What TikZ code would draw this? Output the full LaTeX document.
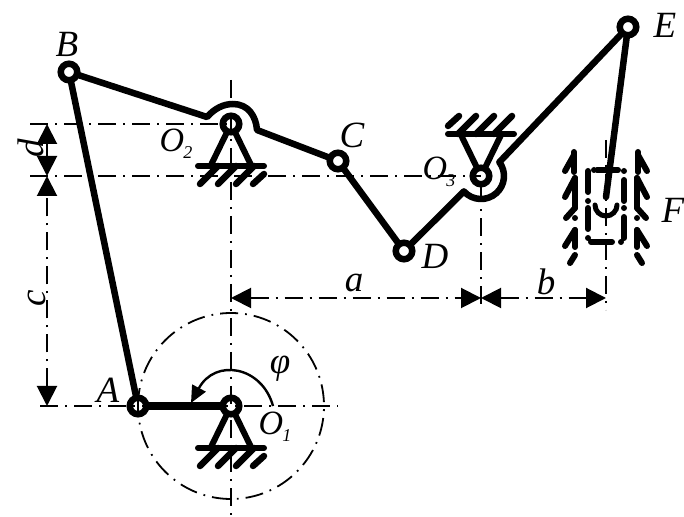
\documentclass[tikz,border=0pt]{standalone}
\usepackage{fontspec}
\setmainfont{Liberation Serif}
\usetikzlibrary{arrows.meta}
\newcommand{\pinsub}[2]{\fontsize{34}{34}\selectfont #1\kern-1pt\raisebox{-0.45ex}{\fontsize{18}{18}\selectfont #2}}
% hinge with ground hatching, centre + rotation
\newcommand{\hinge}[2]{
\begin{scope}[shift={(#1)}, rotate=#2]
\draw[support] (-20,-41) -- (0,0) -- (20,-41);
\draw[support] (-33,-42) -- (33,-42);
\draw[hatch] (-31,-60) -- (-13,-42);
\draw[hatch] (-13,-60) -- (5,-42);
\draw[hatch] (5,-60) -- (23,-42);
\draw[hatch] (22,-60) -- (33,-50);
\end{scope}
}

\begin{document}
\begin{tikzpicture}[
    x=1pt, y=1pt,
    pin/.style={circle, draw, fill=white, line width=6.5pt, minimum size=16.5pt, inner sep=0pt, outer sep=0pt},
    link/.style={line width=6.5pt, line join=round},
    support/.style={line width=6pt, line cap=round, line join=round},
    hatch/.style={line width=6.5pt, line cap=round},
    rail/.style={line width=6pt, line cap=round},
    axisline/.style={line width=2pt, dash pattern=on 18pt off 7pt on 2pt off 7pt},
    dim/.style={line width=2pt, dash pattern=on 18pt off 7pt on 2pt off 7pt, {Triangle[length=20pt,width=20pt]}-{Triangle[length=20pt,width=20pt]}},
    lbl/.style={font=\fontsize{37}{37}\selectfont\itshape, inner sep=0pt}
]
\useasboundingbox (0,0) rectangle (684,516);

% supports
\hinge{231,110}{0}
\hinge{231,392}{0}
\hinge{481,340}{180}

% slider guides
\foreach \sx in {-1,1} {
\begin{scope}[shift={(606,0)}, xscale=\sx]
\draw[rail] (32,364) -- (32,344);
\draw[rail] (32,361) -- (41,345);
\draw[rail] (31,338) -- (31,308);
\draw[rail] (31,338) -- (41,319);
\draw[rail] (31,308) -- (40,298) (31,298) -- (31,298);
\draw[rail] (31,286) -- (31,269);
\draw[rail] (31,286) -- (41,270);
\draw[rail] (31,261) -- (36,253);
\end{scope}
}
\draw[rail, dash pattern=on 21pt off 7pt on 0pt off 9pt] (597,346) -- (624,346) -- (624,274) -- (588,274) -- (588,346) -- cycle;

% joints
\node[pin] (O1) at (231,110) {};
\node[pin] (A) at (138,110) {};
\node[pin] (B) at (69,444) {};
\node[pin] (O2) at (231,392) {};
\node[pin] (C) at (338,355) {};
\node[pin] (D) at (404,265) {};
\node[pin] (O3) at (481,340) {};
\node[pin] (E) at (628,489) {};
\coordinate (S) at (606,311);
\coordinate (Send) at (606,319);
\coordinate (O2left) at (207,399);
\coordinate (O2right) at (257,386);
\coordinate (O3left) at (463.9,324.6);

% links
\draw[link, line width=8pt] (A) -- (O1);
\draw[link] (A) -- (B);
\draw[link] (B) -- (O2left) .. controls (215,408) and (224,412) .. (233,412) .. controls (248,412) and (256,400) .. (O2right) -- (C);
\draw[link] (C) -- (D);
\draw[link] (D) -- (O3left) arc[start angle=222, end angle=397, radius=23] -- (E);
\draw[link, line cap=round] (E) -- (Send);
\draw[line width=5pt, line cap=round] ([shift={(-11,0)}]S) arc[start angle=180, end angle=360, radius=11];

% centre lines
\coordinate (v1top) at (231,436);
\coordinate (v1bot) at (231,0);
\coordinate (h1l) at (30,392);
\coordinate (h1r) at (231,392);
\coordinate (h2l) at (30,340);
\coordinate (h2r) at (481,340);
\coordinate (h3l) at (40,110);
\coordinate (h3r) at (338,110);
\coordinate (v2bot) at (481,206);
\coordinate (v3top) at (606,376);
\coordinate (v3bot) at (606,206);
\draw[axisline] (v1top) -- (v1bot);
\draw[axisline] (h1l) -- (h1r);
\draw[axisline] (h2l) -- (h2r);
\draw[axisline] (h3l) -- (h3r);
\draw[axisline] (O3) -- (v2bot);
\draw[axisline] (v3top) -- (v3bot);
\draw[line width=1.8pt, dash pattern=on 18pt off 7pt on 1.8pt off 7pt] (O1) ++(-93,0) arc[start angle=180, end angle=-180, radius=93];

% dimensions
\coordinate (a1) at (231,218);
\coordinate (a2) at (481,218);
\coordinate (b2) at (606,218);
\coordinate (c1) at (47,110);
\coordinate (c2) at (47,340);
\coordinate (d2) at (47,392);
\draw[dim] (a1) -- (a2);
\draw[dim] (a2) -- (b2);
\draw[dim] (c1) -- (c2);
\draw[dim] (c2) -- (d2);

% angle
\coordinate (phi1) at (273,110);
\coordinate (phi2) at (191,113);
\draw[line width=2.4pt, -{Triangle[length=17pt,width=15pt]}] (phi1) .. controls (262,150) and (215,158) .. (phi2);

% labels
\node[lbl] (lB) at (67,472) {B};
\node[lbl] (lC) at (352,381) {C};
\node[lbl] (lD) at (435,260) {D};
\node[lbl] (lE) at (665,491) {E};
\node[lbl] (lF) at (673,306) {F};
\node[lbl] (lA) at (108,126) {A};
\node[lbl] (lO1) at (275,89) {\pinsub{O}{1}};
\node[lbl] (lO2) at (176,372) {\pinsub{O}{2}};
\node[lbl] (lO3) at (439,344) {\pinsub{O}{3}};
\node[lbl] (lphi) at (280,147) {φ};
\node[lbl] (la) at (354,233) {a};
\node[lbl] (lb) at (546,234) {b};
\node[lbl, rotate=90] (lc) at (37,218) {c};
\node[lbl, rotate=90] (ld) at (31,368) {d};

\end{tikzpicture}
\end{document}
